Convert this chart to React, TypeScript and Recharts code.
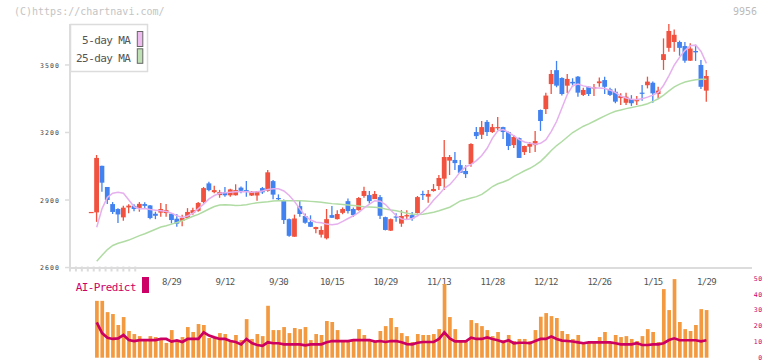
import React from 'react';
import { ComposedChart, Bar, Line, XAxis, YAxis } from 'recharts';

const MONO = '"DejaVu Sans Mono", "Liberation Mono", monospace';
const UP = '#f0523f';
const DOWN = '#4282f0';

const dates = [
  '8/7', '8/8', '8/9', '8/13', '8/14', '8/15', '8/16', '8/19', '8/20', '8/21',
  '8/22', '8/23', '8/26', '8/27', '8/28', '8/29', '8/30', '9/2', '9/3', '9/4',
  '9/5', '9/6', '9/9', '9/10', '9/11', '9/12', '9/13', '9/17', '9/18', '9/19',
  '9/20', '9/24', '9/25', '9/26', '9/27', '9/30', '10/1', '10/2', '10/3', '10/4',
  '10/7', '10/8', '10/9', '10/10', '10/11', '10/15', '10/16', '10/17', '10/18', '10/21',
  '10/22', '10/23', '10/24', '10/25', '10/28', '10/29', '10/30', '10/31', '11/1', '11/5',
  '11/6', '11/7', '11/8', '11/11', '11/12', '11/13', '11/14', '11/15', '11/18', '11/19',
  '11/20', '11/21', '11/22', '11/25', '11/26', '11/28', '11/29', '12/2', '12/3', '12/4',
  '12/5', '12/6', '12/9', '12/10', '12/11', '12/12', '12/13', '12/16', '12/17', '12/18',
  '12/19', '12/20', '12/23', '12/24', '12/25', '12/26', '12/27', '12/30', '1/6', '1/7',
  '1/8', '1/9', '1/10', '1/13', '1/14', '1/15', '1/16', '1/17', '1/20', '1/21',
  '1/22', '1/23', '1/24', '1/27', '1/28', '1/29',
];

const opens = [
  2847, 2845, 3052, 2958, 2882, 2860, 2823, 2867, 2874, 2865,
  2882, 2876, 2839, 2844, 2842, 2839, 2817, 2807, 2820, 2842,
  2852, 2891, 2974, 2935, 2922, 2934, 2921, 2921, 2955, 2944,
  2920, 2920, 2953, 2941, 2984, 2909, 2900, 2815, 2737, 2873,
  2829, 2802, 2771, 2746, 2730, 2833, 2815, 2843, 2895, 2860,
  2855, 2918, 2922, 2904, 2913, 2824, 2764, 2827, 2795, 2827,
  2833, 2842, 2927, 2915, 2940, 2962, 2995, 3075, 3078, 3055,
  3029, 3060, 3202, 3190, 3247, 3202, 3220, 3224, 3202, 3144,
  3175, 3113, 3137, 3144, 3300, 3304, 3415, 3477, 3442, 3408,
  3425, 3448, 3367, 3403, 3395, 3419, 3433, 3392, 3381, 3353,
  3332, 3349, 3339, 3377, 3410, 3421, 3371, 3522, 3576, 3602,
  3602, 3584, 3519, 3562, 3500, 3386,
];

const highs = [
  2847, 3100, 3052, 2958, 2891, 2864, 2875, 2881, 2881, 2891,
  2890, 2878, 2848, 2887, 2882, 2840, 2838, 2835, 2864, 2866,
  2891, 2958, 2981, 2963, 2945, 2958, 2950, 2970, 2960, 2984,
  2940, 2940, 2958, 3033, 2989, 2925, 2902, 2818, 2835, 2900,
  2840, 2832, 2781, 2784, 2860, 2873, 2855, 2867, 2907, 2867,
  2913, 2959, 2940, 2940, 2922, 2826, 2818, 2841, 2855, 2855,
  2847, 2918, 2941, 2944, 2971, 3011, 3167, 3100, 3113, 3078,
  3054, 3152, 3224, 3251, 3255, 3238, 3269, 3226, 3204, 3189,
  3178, 3142, 3158, 3207, 3302, 3377, 3478, 3518, 3445, 3460,
  3441, 3451, 3399, 3405, 3415, 3444, 3448, 3399, 3396, 3374,
  3377, 3366, 3362, 3411, 3448, 3427, 3403, 3618, 3682, 3658,
  3608, 3602, 3596, 3590, 3522, 3478,
];

const lows = [
  2847, 2803, 2937, 2882, 2838, 2798, 2808, 2841, 2850, 2848,
  2864, 2815, 2815, 2826, 2826, 2796, 2781, 2784, 2818, 2835,
  2848, 2885, 2939, 2930, 2910, 2915, 2915, 2920, 2930, 2915,
  2918, 2897, 2927, 2937, 2903, 2897, 2793, 2737, 2737, 2826,
  2795, 2780, 2752, 2733, 2725, 2820, 2813, 2837, 2840, 2825,
  2853, 2910, 2885, 2904, 2816, 2765, 2762, 2803, 2781, 2815,
  2808, 2840, 2900, 2888, 2937, 2944, 2944, 3011, 3033, 3020,
  2998, 3048, 3171, 3171, 3184, 3198, 3211, 3171, 3122, 3131,
  3087, 3100, 3109, 3113, 3207, 3282, 3371, 3401, 3364, 3375,
  3403, 3359, 3362, 3362, 3362, 3403, 3371, 3362, 3330, 3322,
  3322, 3318, 3322, 3341, 3396, 3332, 3352, 3478, 3559, 3559,
  3541, 3510, 3518, 3518, 3393, 3337,
];

const closes = [
  2847, 3087, 2977, 2900, 2847, 2836, 2866, 2875, 2860, 2883,
  2874, 2820, 2830, 2860, 2855, 2811, 2795, 2820, 2847, 2855,
  2887, 2953, 2944, 2944, 2935, 2921, 2947, 2944, 2941, 2937,
  2937, 2938, 2934, 3023, 2924, 2905, 2811, 2741, 2818, 2838,
  2799, 2781, 2780, 2767, 2815, 2821, 2838, 2860, 2851, 2833,
  2909, 2940, 2895, 2927, 2830, 2767, 2815, 2822, 2829, 2833,
  2818, 2913, 2922, 2927, 2949, 2998, 3091, 3091, 3064, 3021,
  3015, 3149, 3184, 3224, 3202, 3224, 3224, 3202, 3140, 3180,
  3087, 3140, 3149, 3162, 3251, 3364, 3460, 3408, 3371, 3438,
  3418, 3377, 3389, 3371, 3402, 3427, 3403, 3367, 3337, 3362,
  3359, 3330, 3344, 3372, 3426, 3374, 3386, 3548, 3651, 3634,
  3576, 3519, 3573, 3556, 3403, 3451,
];

const ma5 = [
  null, 2779, 2862, 2912, 2930, 2934, 2930, 2900, 2870, 2860,
  2862, 2858, 2855, 2852, 2849, 2842, 2830, 2823, 2829, 2842,
  2862, 2882, 2905, 2920, 2930, 2932, 2935, 2937, 2937, 2937,
  2935, 2937, 2940, 2947, 2950, 2950, 2940, 2920, 2893, 2860,
  2829, 2811, 2801, 2799, 2793, 2790, 2793, 2805, 2818, 2830,
  2845, 2865, 2882, 2897, 2895, 2880, 2855, 2830, 2816, 2814,
  2818, 2830, 2848, 2870, 2900, 2925, 2952, 2968, 2995, 3026,
  3048, 3058, 3075, 3098, 3130, 3175, 3208, 3213, 3200, 3185,
  3168, 3158, 3152, 3148, 3152, 3168, 3205, 3250, 3310, 3370,
  3408, 3415, 3407, 3402, 3398, 3398, 3395, 3388, 3377, 3362,
  3353, 3348, 3347, 3350, 3357, 3366, 3378, 3410, 3453, 3500,
  3535, 3565, 3585, 3588, 3560, 3507,
];

const ma25 = [
  null, 2628, 2655, 2680, 2698, 2708, 2715, 2722, 2732, 2742,
  2750, 2760, 2770, 2780, 2786, 2793, 2800, 2808, 2818, 2828,
  2836, 2848, 2860, 2871, 2878, 2879, 2878, 2876, 2877, 2879,
  2884, 2888, 2890, 2892, 2896, 2897, 2897, 2897, 2897, 2897,
  2896, 2894, 2892, 2890, 2887, 2884, 2882, 2880, 2878, 2876,
  2873, 2870, 2869, 2868, 2866, 2860, 2856, 2852, 2847, 2841,
  2838, 2836, 2837, 2841, 2846, 2852, 2860, 2868, 2882, 2896,
  2902, 2909, 2915, 2925, 2942, 2960, 2972, 2980, 2990, 3005,
  3017, 3030, 3041, 3055, 3072, 3095, 3120, 3142, 3160, 3180,
  3200, 3214, 3228, 3238, 3250, 3262, 3274, 3285, 3294, 3300,
  3306, 3311, 3316, 3321, 3328, 3338, 3350, 3366, 3385, 3403,
  3415, 3424, 3430, 3434, 3436, 3437,
];

const volume = [
  null, 35.8, 35.8, 28.7, 27.5, 20.6, 25.6, 16.8, 14.9, 13.6,
  10.5, 13.6, 13.0, 11.8, 9.3, 17.4, 10.5, 13.0, 19.3, 16.2,
  21.2, 20.6, 12.4, 13.0, 15.5, 14.9, 10.5, 14.3, 11.1, 24.3,
  11.8, 14.9, 13.6, 32.7, 17.4, 17.4, 19.3, 15.5, 18.7, 18.0,
  19.3, 11.1, 14.9, 14.3, 23.1, 22.5, 17.4, 9.9, 9.9, 10.5,
  18.0, 14.3, 10.5, 10.5, 16.8, 19.9, 25.0, 19.3, 15.5, 13.6,
  9.9, 14.9, 14.3, 14.3, 14.9, 18.0, 46.4, 25.6, 18.0, 9.9,
  10.5, 23.7, 21.8, 19.9, 17.4, 13.6, 16.2, 11.0, 14.3, 10.5,
  11.8, 11.8, 10.5, 17.4, 25.8, 28.1, 26.2, 25.0, 16.8, 14.9,
  11.8, 14.3, 9.9, 9.9, 9.9, 13.0, 16.2, 9.9, 14.3, 13.0,
  13.6, 11.8, 10.5, 13.6, 18.0, 16.2, 9.9, 43.2, 30.0, 49.5,
  22.5, 18.0, 16.8, 20.6, 30.6, 30.0,
];

const aiPredict = [
  null, 22.3, 15.5, 12.6, 11.8, 12.2, 14.3, 11.1, 10.5, 11.1,
  11.1, 11.1, 11.1, 11.8, 11.8, 10.1, 10.9, 9.9, 11.8, 11.8,
  11.8, 16.0, 13.9, 12.8, 11.8, 11.8, 10.5, 9.9, 8.4, 11.8,
  9.2, 8.0, 7.4, 9.7, 9.1, 9.1, 8.4, 8.4, 8.4, 8.4,
  7.8, 8.4, 8.4, 8.4, 9.7, 10.5, 10.5, 10.5, 10.5, 11.1,
  11.1, 11.1, 11.1, 10.1, 10.5, 9.9, 10.5, 10.5, 9.7, 8.6,
  8.4, 9.4, 9.9, 9.9, 9.9, 11.8, 16.0, 12.2, 10.3, 10.3,
  10.3, 12.6, 11.8, 11.8, 12.8, 11.8, 11.0, 9.9, 11.0, 9.1,
  9.4, 9.4, 9.1, 10.5, 11.8, 11.8, 13.3, 11.8, 10.8, 10.5,
  10.2, 9.7, 9.1, 9.7, 9.7, 9.7, 9.7, 9.7, 9.1, 8.4,
  8.4, 8.4, 9.1, 8.0, 8.0, 8.4, 8.4, 9.1, 11.1, 12.2,
  11.0, 11.0, 11.0, 11.0, 10.3, 11.0,
];

const dateLabels = ['8/29', '9/12', '9/30', '10/15', '10/29', '11/13', '11/28', '12/12', '12/26', '1/15', '1/29'];
const priceTicks = [2600, 2900, 3200, 3500];
const volumeTicks = [0, 10, 20, 30, 40, 50];
const gridTicks = [0, 1, 2, 3, 4, 5, 6, 7, 8, 9, 10, 11];

const rows = dates.map((date, i) => ({
  date,
  open: opens[i],
  high: highs[i],
  low: lows[i],
  close: closes[i],
  ma5: ma5[i],
  ma25: ma25[i],
  volume: volume[i],
  ai: aiPredict[i],
}));

const xPadding = { left: 18.7, right: 42.9 };

function Candle(props: any) {
  const { x, y, width, height, payload } = props;
  if (!payload) return null;
  const { open, high, low, close } = payload;
  const cx = x + width / 2;
  const top = Math.min(y, y + height);
  const h = Math.abs(height);
  const color = close >= open ? UP : DOWN;
  const k = high > low ? h / (high - low) : 0;
  const bodyTop = top + (high - Math.max(open, close)) * k;
  const bodyH = Math.max(Math.abs(open - close) * k, 1.2);
  return (
    <g>
      <line x1={cx} x2={cx} y1={top} y2={top + h} stroke={color} strokeWidth={1.3} />
      <rect x={cx - 2.4} y={bodyTop} width={4.8} height={bodyH} fill={color} />
    </g>
  );
}

function DateTick({ x, y, payload }: any) {
  if (!dateLabels.includes(payload.value)) return <g />;
  return (
    <text x={x} y={y + 17} textAnchor="middle" fontSize={9} letterSpacing={-0.65} fill="#555" fontFamily={MONO}>
      {payload.value}
    </text>
  );
}

function GridTick({ x, y }: any) {
  return <line x1={x} x2={x} y1={y - 2.5} y2={y + 2.5} stroke="#dcdcdc" strokeWidth={2} />;
}

function PriceTick({ x, y, payload }: any) {
  return (
    <text x={x} y={y + 2.7} textAnchor="end" fontSize={6.5} letterSpacing={1.1} fill="#444" fontFamily={MONO}>
      {payload.value}
    </text>
  );
}

function VolumeTick({ x, y, payload }: any) {
  return (
    <text x={x + 10.5} y={y + 2.4} textAnchor="end" fontSize={6.5} letterSpacing={0.4} fill="#cc0066" fontFamily={MONO}>
      {payload.value}
    </text>
  );
}

export default function App() {
  return (
    <div style={{ position: 'absolute', left: 0, top: 0, width: 772, height: 361, background: '#fff' }}>
      <div style={{ position: 'absolute', left: 0, top: 0 }}>
        <ComposedChart width={772} height={300} data={rows} margin={{ top: 24, right: 20, bottom: 30, left: 0 }}>
          <XAxis
            xAxisId="grid"
            type="number"
            domain={[0, 11]}
            ticks={gridTicks}
            allowDataOverflow
            height={1}
            axisLine={false}
            tickLine={false}
            tickSize={0}
            tickMargin={0}
            interval={0}
            tick={<GridTick />}
          />
          <XAxis
            xAxisId="c"
            dataKey="date"
            height={1}
            padding={xPadding}
            interval={0}
            tickLine={false}
            tickSize={0}
            tickMargin={0}
            axisLine={{ stroke: '#dcdcdc', strokeWidth: 2 }}
            tick={<DateTick />}
          />
          <YAxis
            domain={[2598, 3682]}
            ticks={priceTicks}
            allowDataOverflow
            width={70}
            axisLine={{ stroke: '#dcdcdc', strokeWidth: 2 }}
            tickLine={{ stroke: '#dcdcdc', strokeWidth: 1.5 }}
            tickSize={5}
            tickMargin={5}
            tick={<PriceTick />}
          />
          <Bar xAxisId="c" dataKey={(d: any) => [d.low, d.high]} shape={<Candle />} isAnimationActive={false} />
          <Line xAxisId="c" dataKey="ma25" stroke="#b0dca4" strokeWidth={1.5} dot={false} isAnimationActive={false} />
          <Line xAxisId="c" dataKey="ma5" stroke="#e6b0ee" strokeWidth={1.5} dot={false} isAnimationActive={false} />
        </ComposedChart>
      </div>
      <div style={{ position: 'absolute', left: 0, top: 0 }}>
        <ComposedChart width={772} height={361} data={rows} margin={{ top: 278.3, right: 0, bottom: 3.3, left: 70 }}>
          <XAxis xAxisId="c" dataKey="date" hide padding={xPadding} />
          <YAxis
            orientation="right"
            domain={[0, 50]}
            ticks={volumeTicks}
            interval={0}
            width={20}
            axisLine={false}
            tickLine={false}
            tickSize={0}
            tickMargin={0}
            tick={<VolumeTick />}
          />
          <Bar xAxisId="c" dataKey="volume" fill="#f39a40" barSize={3.7} isAnimationActive={false} />
          <Line xAxisId="c" dataKey="ai" stroke="#cc0060" strokeWidth={2.7} dot={false} isAnimationActive={false} />
        </ComposedChart>
      </div>
      <svg width={772} height={361} style={{ position: 'absolute', left: 0, top: 0, pointerEvents: 'none' }}>
        <text x={14} y={15} fontSize={10} fill="#c4c4c4" fontFamily={MONO}>(C)https://chartnavi.com/</text>
        <text x={757} y={15} textAnchor="end" fontSize={10} fill="#bbb" fontFamily={MONO}>9956</text>
        <rect x={70.5} y={24.5} width={77} height={47} fill="#fff" stroke="#dcdcdc" strokeWidth={1.5} />
        <text x={130.3} y={44.3} textAnchor="end" fontSize={11} letterSpacing={-0.6} fill="#555" fontFamily={MONO}>5-day MA</text>
        <text x={130.3} y={61.7} textAnchor="end" fontSize={11} letterSpacing={-0.6} fill="#555" fontFamily={MONO}>25-day MA</text>
        <rect x={137.3} y={31.5} width={5.5} height={15} fill="#eebcee" stroke="#666" strokeWidth={1} />
        <rect x={137.3} y={48.8} width={5.5} height={14.5} fill="#bfe0b5" stroke="#666" strokeWidth={1} />
        <text x={75.7} y={290.5} fontSize={11} letterSpacing={-0.6} fill="#cc0066" fontFamily={MONO}>AI-Predict</text>
        <rect x={142} y={277} width={7} height={16} fill="#cc0066" />
      </svg>
    </div>
  );
}
